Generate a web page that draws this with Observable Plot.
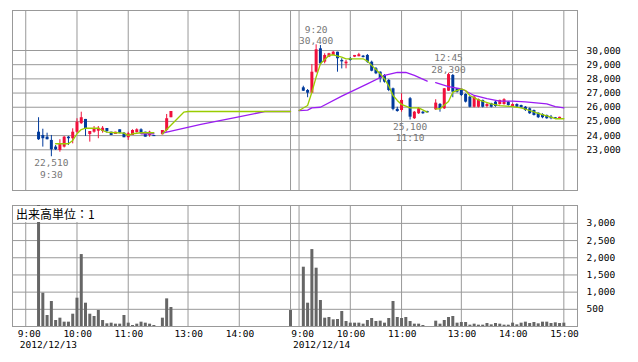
<!DOCTYPE html>
<html><head><meta charset="utf-8">
<script src="https://cdn.jsdelivr.net/npm/d3@7"></script>
<script src="https://cdn.jsdelivr.net/npm/@observablehq/plot@0.6"></script>
<style>
html,body{margin:0;padding:0;background:#fff;}
#wrap{position:relative;width:638px;height:362px;overflow:hidden;background:#fff;}
#wrap svg{display:block;}
#vlabel{position:absolute;left:13px;top:206px;background:#fff;font-family:"Noto Sans CJK JP",sans-serif;font-size:12px;line-height:16px;padding:0 3px 0 3px;color:#000;white-space:nowrap;}
</style></head><body><div id="wrap"></div>
<script>
// ---------- data ----------
const priceTicks = [23000, 24000, 25000, 26000, 27000, 28000, 29000, 30000];
const volumeTicks = [500, 1000, 1500, 2000, 2500, 3000];
const gridTimes = [[1,"9:00"],[1,"10:00"],[1,"11:00"],[1,"13:00"],[1,"14:00"],[1,"15:00"],
                   [2,"9:00"],[2,"10:00"],[2,"11:00"],[2,"13:00"],[2,"14:00"],[2,"15:00"]];
const timeLabels = [[1,"9:00"],[1,"10:00"],[1,"11:00"],[1,"13:00"],[1,"14:00"],
                    [2,"9:00"],[2,"10:00"],[2,"11:00"],[2,"13:00"],[2,"14:00"],[2,"15:00"]];
const dateLabels = [[1,"9:00","2012/12/13"],[2,"9:00","2012/12/14"]];
const volumeUnitLabel = "出来高単位：1";

// [time, open, high, low, close]
const day1Candles = [
["9:15",24240,25260,23660,23710],["9:20",24010,24450,23190,23780],["9:25",23890,24170,23700,23710],
["9:30",23660,24010,22510,23000],["9:35",23190,23300,22950,23000],["9:40",22950,23710,22830,23420],
["9:45",23190,23940,23130,23890],["9:50",23890,23940,23300,23780],["9:55",23780,24480,23420,24240],
["10:00",24240,25190,24130,24950],["10:05",24840,25650,24790,25260],["10:10",25140,25140,23940,24480],
["10:15",24080,24290,23540,24290],["10:20",24240,24640,24170,24430],["10:25",24310,24640,23780,24520],
["10:30",24290,24640,24170,24520],["10:35",24500,24500,24170,24290],["10:40",24240,24240,24010,24010],
["10:45",24080,24240,24080,24240],["10:50",24410,24410,24130,24170],["10:55",24170,24220,23850,23850],
["11:00",23850,24240,23660,24130],["11:05",24010,24410,24010,24360],["11:10",24220,24480,24170,24410],
["11:15",24410,24480,24080,24130],["11:20",24240,24240,23890,23890],["11:25",24010,24310,23890,24240],
["11:30",24010,24010,23940,23930],
["12:30",24060,24360,24060,24360],["12:35",24360,25490,24240,25190],["12:40",25260,25700,25260,25700]
];
const day2Candles = [
["9:05",27370,27480,27110,27130],["9:10",27180,27250,26670,26990],["9:15",26990,29010,26990,28470],
["9:20",28470,30400,28400,30050],["9:25",30120,30350,28940,29060],["9:30",29180,29770,29060,29650],
["9:35",29530,29800,29500,29770],["9:40",29650,29930,29650,29880],["9:45",29880,29880,28470,29420],
["9:50",29300,29420,28700,29200],["9:55",29060,29300,28710,29180],["10:00",29415,29500,29250,29295],
["10:05",29530,29650,29500,29650],["10:10",29560,29800,29560,29700],["10:15",29600,29650,29480,29500],
["10:20",29650,29720,29100,29175],["10:25",29175,29250,28500,28540],["10:30",28710,28800,28300,28360],
["10:35",28470,28500,27720,28006],["10:40",28240,28300,27700,27770],["10:45",27890,27950,27100,27180],
["10:50",27300,27350,25750,25850],["10:55",25850,26000,25650,25700],["11:00",25770,26950,25650,26480],
["11:10",26600,26690,25100,25300],["11:15",25190,25700,25140,25650],["11:20",25540,25980,25490,25890],
["11:25",25650,25700,25500,25540],["11:30",25700,25720,25620,25600],
["12:30",25820,26530,25770,26290],["12:35",26200,26260,25650,25890],["12:40",25890,27320,25840,27300],
["12:45",27130,28390,27110,28300],["12:50",28240,28310,26670,27060],["12:55",27300,27320,27000,27060],
["13:00",27180,27250,26760,26830],["13:05",26900,26950,26300,26360],["13:10",26710,26760,25950,26000],
["13:15",26000,26760,25950,26710],["13:20",26000,26580,25950,26530],["13:25",26480,26500,25950,26000],
["13:30",26050,26260,25950,26190],["13:35",26240,26280,25950,26000],["13:40",26360,26400,26000,26050],
["13:45",26190,26500,26150,26480],["13:50",26190,26600,26150,26530],["13:55",26360,26400,26080,26120],
["14:00",26050,26240,26000,26190],["14:05",26190,26240,25950,26000],["14:10",26120,26150,25900,25960],
["14:15",26000,26050,25700,25770],["14:20",25890,25950,25500,25540],["14:25",25770,25800,25380,25420],
["14:30",25580,25600,25200,25260],["14:35",25490,25540,25190,25260],["14:40",25420,25450,25150,25190],
["14:45",25300,25420,25120,25190],["14:50",25260,25280,25150,25190],["14:55",25190,25300,25180,25290]
];

// [time, volume]
const day1Volume = [
["9:15",3700],["9:20",969],["9:25",320],["9:30",727],["9:35",174],["9:40",242],["9:45",126],["9:50",126],
["9:55",358],["10:00",824],["10:05",2093],["10:10",678],["10:15",358],["10:20",291],["10:25",465],
["10:30",174],["10:35",78],["10:40",97],["10:45",68],["10:50",68],["10:55",320],["11:00",97],["11:05",29],
["11:10",68],["11:15",126],["11:20",97],["11:25",68],["11:30",29],["12:30",242],["12:35",804],["12:40",552],
["15:00",465]
];
const day2Volume = [
["9:05",1725],["9:10",678],["9:15",2238],["9:20",1696],["9:25",756],["9:30",242],["9:35",262],["9:40",194],
["9:45",204],["9:50",436],["9:55",145],["10:00",97],["10:05",97],["10:10",97],["10:15",68],["10:20",174],
["10:25",233],["10:30",145],["10:35",155],["10:40",97],["10:45",233],["10:50",727],["10:55",262],["11:00",233],
["11:05",262],["11:10",145],["11:15",68],["11:20",68],["11:25",29],
["12:30",155],["12:35",68],["12:40",174],["12:45",262],["12:50",291],["12:55",97],["13:00",116],["13:05",116],
["13:10",39],["13:15",68],["13:20",39],["13:25",39],["13:30",87],["13:35",48],["13:40",87],["13:45",68],
["13:50",39],["13:55",39],["14:00",97],["14:05",48],["14:10",97],["14:15",126],["14:20",87],["14:25",116],
["14:30",78],["14:35",126],["14:40",126],["14:45",87],["14:50",107],["14:55",87],["15:00",97]
];

// moving averages: [day, time, value]
const maShort = [
[1,"9:35",23425],[1,"9:50",23425],[1,"9:55",23660],[1,"10:00",24130],[1,"10:05",24430],[1,"10:10",24520],
[1,"10:25",24520],[1,"10:30",24360],[1,"10:35",24240],[1,"10:45",24200],[1,"10:55",24170],[1,"11:00",24010],
[1,"11:05",24130],[1,"11:15",24200],[1,"11:30",24200],
[1,"12:30",24130],[1,"12:55",25650],[1,"13:00",25700],[1,"15:00",25700],
[2,"9:00",25770],[2,"9:10",26120],[2,"9:15",27060],[2,"9:20",28120],[2,"9:25",29060],[2,"9:35",29650],
[2,"9:40",29700],[2,"9:50",29530],[2,"9:55",29415],[2,"10:15",29415],[2,"10:20",29250],[2,"10:25",28950],
[2,"10:35",28360],[2,"10:40",28000],[2,"10:45",27500],[2,"10:50",26830],[2,"10:55",26480],[2,"11:00",26200],
[2,"11:10",25960],[2,"11:20",25960],[2,"11:30",25650],
[2,"12:30",25890],[2,"12:35",25890],[2,"12:45",26400],[2,"12:50",27060],[2,"13:00",27300],[2,"13:05",27180],
[2,"13:10",26830],[2,"13:20",26520],[2,"13:35",26240],[2,"13:45",26120],[2,"14:00",26050],[2,"14:10",25960],
[2,"14:20",25770],[2,"14:30",25560],[2,"14:45",25300],[2,"14:50",25190],[2,"15:00",25190]
];
const maLong = [
[1,"11:15",24130],[1,"11:30",24130],
[1,"12:30",24170],[1,"13:15",24790],[1,"13:55",25260],[1,"14:30",25700],[1,"15:00",25700],
[2,"9:00",25770],[2,"9:10",25800],[2,"9:15",25960],[2,"9:25",26000],[2,"9:50",26780],[2,"10:20",27650],
[2,"10:40",28240],[2,"10:55",28450],[2,"11:05",28450],[2,"11:15",28240],[2,"11:30",27840],
[2,"12:30",27740],[2,"12:45",27460],[2,"13:00",27300],[2,"13:15",26830],[2,"13:30",26600],[2,"13:45",26430],
[2,"14:00",26430],[2,"14:15",26380],[2,"14:40",26240],[2,"14:50",26050],[2,"15:00",25960]
];

// labelled extremes: [day, time, price, kind]
const extremes = [[1,"9:30",22510,"low"],[2,"9:20",30400,"high"],[2,"11:10",25100,"low"],[2,"12:45",28390,"high"]];

// ---------- helpers ----------
function slotOf(day, t) {
  const [h, m] = t.split(":").map(Number);
  const min = h * 60 + m - 540;
  const s = min <= 150 ? min / 5 : (min - 210) / 5 + 32;
  return s + (day - 1) * 64;
}
function sessionOf(day, t) { return day * 2 + (Number(t.split(":")[0]) >= 12 ? 1 : 0); }
const fmt = d3.format(",");

const candles = [
  ...day1Candles.map(r => ({day: 1, t: r[0], o: r[1], h: r[2], l: r[3], c: r[4]})),
  ...day2Candles.map(r => ({day: 2, t: r[0], o: r[1], h: r[2], l: r[3], c: r[4]}))
].map(d => ({...d, s: slotOf(d.day, d.t), up: d.c >= d.o}));
const volumes = [
  ...day1Volume.map(r => ({s: slotOf(1, r[0]), v: r[1]})),
  ...day2Volume.map(r => ({s: slotOf(2, r[0]), v: r[1]}))
];
const toLine = arr => arr.map(([d, t, v]) => ({s: slotOf(d, t), v, z: sessionOf(d, t)}));
const shortLine = toLine(maShort), longLine = toLine(maLong);
const gridSlots = gridTimes.map(([d, t]) => slotOf(d, t));
const ext = extremes.map(([d, t, p, k]) => ({s: slotOf(d, t), p, k,
  text: k === "low" ? fmt(p) + "\n" + t : t + "\n" + fmt(p)}));

const RED = "#f0103c", BLUE = "#003a9c", GREEN = "#99cc00", PURPLE = "#9b1cf2", GRID = "#999";
const X = {domain: [-3.1, 129.2], axis: null};
const FONT = {fontFamily: '"DejaVu Sans Mono", monospace', fontSize: "9.5px", color: "#000", background: "#fff", overflow: "visible"};

const main = Plot.plot({
  width: 638, height: 196, marginTop: 10, marginBottom: 6, marginLeft: 12, marginRight: 61,
  style: FONT, x: X, y: {domain: [20130, 32820], axis: null, label: null},
  marks: [
    Plot.gridY(priceTicks, {stroke: GRID, strokeOpacity: 1}),
    Plot.gridX(gridSlots, {stroke: GRID, strokeOpacity: 1}),
    Plot.frame({stroke: GRID}),
    Plot.axisY(priceTicks, {anchor: "right", tickSize: 0, tickPadding: 9, tickFormat: fmt, fill: "#000", label: null}),
    Plot.ruleX(candles, {x: "s", y1: "l", y2: "h", stroke: d => d.up ? RED : BLUE, strokeWidth: 1}),
    Plot.ruleX(candles, {x: "s", y1: "o", y2: "c", stroke: d => d.up ? RED : BLUE, strokeWidth: 3}),
    Plot.line(longLine, {x: "s", y: "v", z: "z", stroke: PURPLE, strokeWidth: 1.3}),
    Plot.line(shortLine, {x: "s", y: "v", z: "z", stroke: GREEN, strokeWidth: 1.3}),
    Plot.text(ext.filter(d => d.k === "low"), {x: "s", y: "p", text: "text", lineAnchor: "top", dy: 1.5, lineHeight: 1.22, fill: "#777"}),
    Plot.text(ext.filter(d => d.k === "high"), {x: "s", y: "p", text: "text", lineAnchor: "bottom", dy: -0.5, lineHeight: 1.22, fill: "#777"})
  ]
});

const vol = Plot.plot({
  width: 638, height: 166, marginTop: 9, marginBottom: 36, marginLeft: 12, marginRight: 61,
  style: FONT, x: X, y: {domain: [0, 3520], axis: null, label: null},
  marks: [
    Plot.gridY(volumeTicks, {stroke: GRID, strokeOpacity: 1}),
    Plot.gridX(gridSlots, {stroke: GRID, strokeOpacity: 1}),
    Plot.frame({stroke: GRID}),
    Plot.axisY(volumeTicks, {anchor: "right", tickSize: 0, tickPadding: 9, tickFormat: fmt, fill: "#000", label: null}),
    Plot.ruleX(volumes, {x: "s", y1: 0, y2: "v", stroke: "#666", strokeWidth: 3, clip: true}),
    Plot.text(timeLabels, {x: d => slotOf(d[0], d[1]), text: d => d[1], frameAnchor: "bottom", dy: 10, dx: 15, textAnchor: "end", fill: "#000"}),
    Plot.text(dateLabels, {x: d => slotOf(d[0], d[1]), text: d => d[2], frameAnchor: "bottom", dy: 21, dx: -6, textAnchor: "start", fill: "#000"})
  ]
});

const wrap = document.getElementById("wrap");
wrap.appendChild(main);
wrap.appendChild(vol);
const lab = document.createElement("div");
lab.id = "vlabel";
lab.textContent = volumeUnitLabel;
wrap.appendChild(lab);
</script>
</body></html>
